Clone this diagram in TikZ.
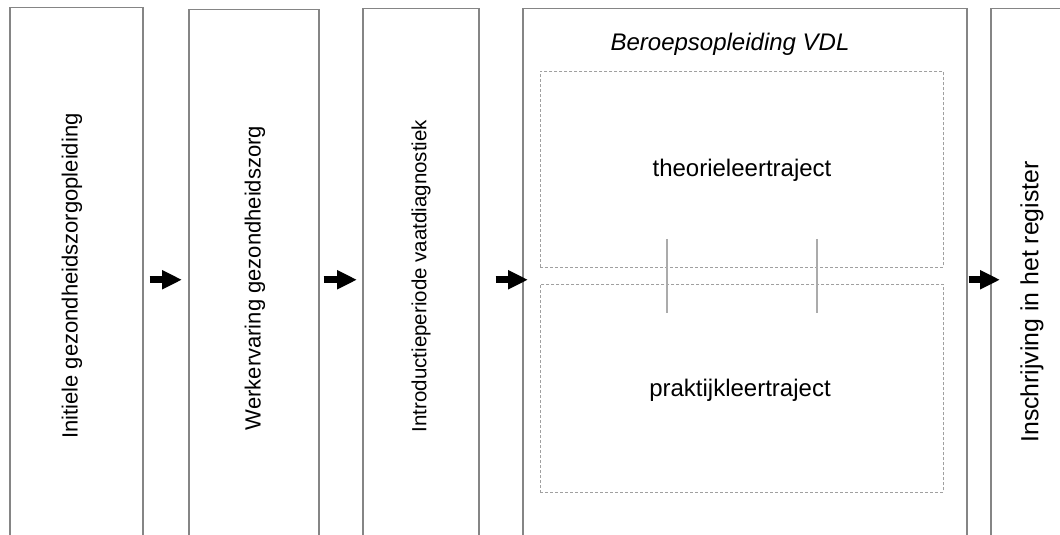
\documentclass[tikz,border=0pt]{standalone}
\usepackage{fontspec}
\setmainfont{Liberation Sans}
\usetikzlibrary{arrows.meta,calc}
\definecolor{boxgray}{HTML}{858585}
\definecolor{dashgray}{HTML}{A0A0A0}
\definecolor{linkgray}{HTML}{ABABAB}
\begin{document}
\begin{tikzpicture}[x=1pt,y=-1pt,
  stage/.style={draw=boxgray,line width=1.5pt,rectangle,anchor=north west,inner sep=0pt},
  track/.style={draw=dashgray,line width=0.9pt,dash pattern=on 3pt off 2pt,rectangle,anchor=north west,inner sep=0pt},
  flow/.style={line width=7pt,-{Triangle[length=20pt,width=18pt]}},
  vlabel/.style={rotate=90,inner sep=0pt,font=\fontsize{22}{26}\selectfont},
  hlabel/.style={inner sep=0pt,anchor=base,font=\fontsize{24}{28}\selectfont},
  link/.style={draw=linkgray,line width=1.4pt}]
\useasboundingbox (0,0) rectangle (1060,535);
\clip (0,0) rectangle (1060,535);
% stage boxes (open at the bottom: they run past the picture's edge)
\node[stage,minimum width=133pt,minimum height=544pt] (b1) at (9,7) {};
\node[stage,minimum width=130pt,minimum height=540pt] (b2) at (188,9) {};
\node[stage,minimum width=116pt,minimum height=542pt] (b3) at (362,8) {};
\node[stage,minimum width=444pt,minimum height=542pt] (b4) at (522,8) {};
\node[stage,minimum width=120pt,minimum height=542pt] (b5) at (990,8) {};
% dashed inner tracks
\node[track,minimum width=403pt,minimum height=196pt] (t) at (540,71) {};
\node[track,minimum width=403pt,minimum height=208pt] (p) at (540,284) {};
% links between the tracks
\draw[link] ($(t.south west)+(127,-29)$) -- ($(p.north west)+(127,29)$);
\draw[link] ($(t.south west)+(277,-29)$) -- ($(p.north west)+(277,29)$);
% arrows
\draw[flow,shorten <=6pt,shorten >=6pt] (b1.east) -- (b2.west);
\draw[flow,shorten <=4pt,shorten >=5pt] (b2.east) -- (b3.west);
\draw[flow,shorten <=16pt,shorten >=-6pt] (b3.east) -- (b4.west);
\draw[flow,shorten <=1pt,shorten >=-10pt] (b4.east) -- (b5.west);
% labels
\node[vlabel] (l1) at (72,276) {Initiele gezondheidszorgopleiding};
\node[vlabel] (l2) at (255,278) {Werkervaring gezondheidszorg};
\node[vlabel,font=\fontsize{20.5}{24}\selectfont] (l3) at (421,276) {Introductieperiode vaatdiagnostiek};
\node[vlabel,font=\fontsize{24.8}{28}\selectfont] (l5) at (1032,302) {Inschrijving in het register};
\node[hlabel,font=\fontsize{24}{28}\selectfont\itshape] (l4) at (730,51) {Beroepsopleiding VDL};
\node[hlabel] (lt) at (742,176) {theorieleertraject};
\node[hlabel] (lp) at (740,396) {praktijkleertraject};
\end{tikzpicture}
\end{document}
